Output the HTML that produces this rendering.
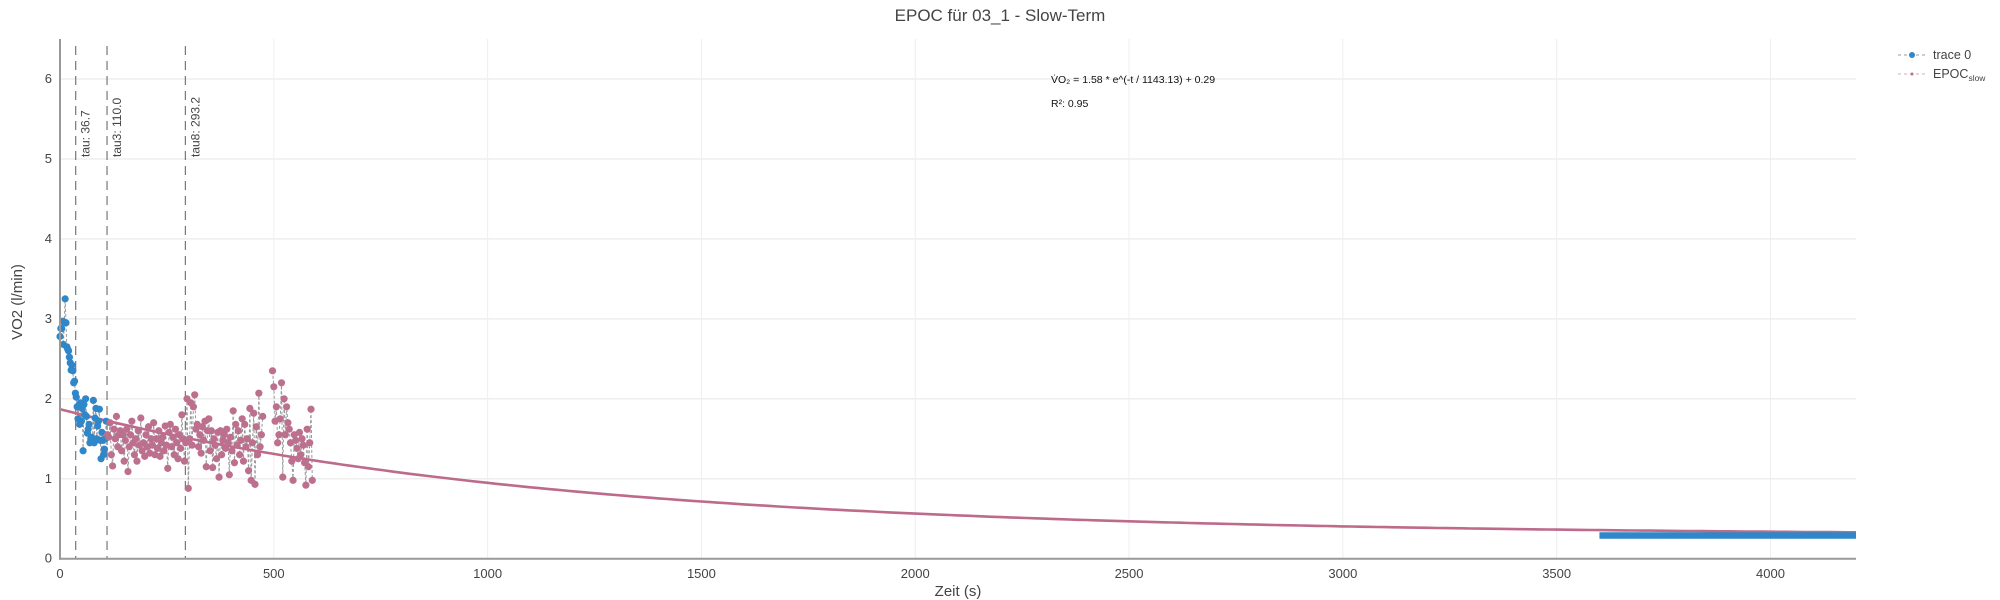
<!DOCTYPE html>
<html><head><meta charset="utf-8"><style>
html,body{margin:0;padding:0;background:#fff;}
svg{display:block;font-family:"Liberation Sans",sans-serif;}
</style></head><body>
<svg id="chart" width="2000" height="600" viewBox="0 0 2000 600" xmlns="http://www.w3.org/2000/svg">
<text x="1000" y="21" text-anchor="middle" font-size="17" fill="#444">EPOC für 03_1 - Slow-Term</text>
<g id="grid"></g>
<g id="marks"></g>
<g id="axes"></g>
<text x="1051" y="83" font-size="10.5" fill="#111">V̇O₂ = 1.58 * e^(-t / 1143.13) + 0.29</text>
<text x="1051" y="107" font-size="10.5" fill="#111">R²: 0.95</text>
<text x="958" y="596" text-anchor="middle" font-size="15" fill="#444">Zeit (s)</text>
<text transform="translate(22,302) rotate(-90)" text-anchor="middle" font-size="15" fill="#444">VO2 (l/min)</text>
<g>
 <g>
  <line x1="1898" y1="55" x2="1926" y2="55" stroke="#999" stroke-width="1" stroke-dasharray="3,3"/>
  <circle cx="1912" cy="55" r="3" fill="#2f86c8"/>
  <text x="1933" y="59" font-size="12.5" fill="#444">trace 0</text>
 </g>
 <g>
  <line x1="1898" y1="74" x2="1926" y2="74" stroke="#d9a9bc" stroke-width="1" stroke-dasharray="3,3"/>
  <circle cx="1912" cy="74" r="1.5" fill="#bd6f8e"/>
  <text x="1933" y="78" font-size="12.5" fill="#444">EPOC<tspan font-size="8.5" dy="3">slow</tspan></text>
 </g>
</g>
</svg>
<script>
const xTicks=[0,500,1000,1500,2000,2500,3000,3500,4000];
const yTicks=[0,1,2,3,4,5,6];
const tauValues=[36.7,110.0,293.2];
const tauLabels=["tau: 36.7","tau3: 110.0","tau8: 293.2"];
const fitA=1.58, fitTau=1143.13, fitC=0.29;
const blueStart=0, blueStep=2;
const blueValues=[2.78,2.88,2.88,2.97,2.68,2.96,3.25,2.95,2.65,2.62,2.6,2.52,2.45,2.36,2.42,2.35,2.2,2.22,2.07,2.02,1.9,1.75,1.92,1.68,1.95,1.72,1.88,1.35,1.93,1.8,2.0,1.78,1.57,1.62,1.68,1.45,1.5,1.52,1.46,1.98,1.45,1.76,1.88,1.5,1.66,1.72,1.87,1.48,1.25,1.58,1.48,1.3,1.37,1.5,1.72];
const pinkAStart=111, pinkStep=3;
const pinkAValues=[1.55,1.52,1.7,1.3,1.16,1.62,1.5,1.78,1.4,1.55,
1.6,1.35,1.55,1.22,1.48,1.62,1.09,1.4,1.55,1.72,
1.45,1.3,1.5,1.22,1.6,1.42,1.76,1.35,1.45,1.28,
1.55,1.4,1.65,1.32,1.5,1.42,1.7,1.3,1.5,1.38,
1.6,1.28,1.45,1.52,1.35,1.66,1.42,1.13,1.58,1.68,
1.4,1.52,1.3,1.62,1.45,1.25,1.55,1.38,1.8,1.5,
1.22,1.45,2.0,0.88,1.5,1.95,1.42,1.9,2.05,1.62,
1.68,1.4,1.55,1.32,1.65,1.48,1.72,1.15,1.6,1.75,
1.35,1.6,1.14,1.5,1.42,1.25,1.58,1.02,1.6,1.3,
1.48,1.55,1.38,1.62,1.45,1.05,1.52,1.35,1.85,1.2,
1.68,1.42,1.6,1.3,1.48,1.75,1.22,1.68,1.4,1.5,
1.1,1.88,0.98,1.45,1.82,0.93,1.65,1.3,2.07,1.4,
1.55,1.78];
const pinkBStart=497;
const pinkBValues=[2.35,2.15,1.72,1.9,1.45,1.55,1.75,2.2,1.02,2.0,1.55,1.9,1.7,1.62,1.45,1.22,0.98,1.55,1.48,1.38,1.25,1.58,1.3,1.5,1.42,1.2,0.92,1.62,1.15,1.45,1.87,0.98];
const tailTimes=[3600,4200];
const tailValues=[0.29,0.29];

const NS="http://www.w3.org/2000/svg";
const X0=60,X1=1856,XMAX=4200,Y0=558.7,PXU=79.95,YTOP=39;
const sx=t=>X0+(t/XMAX)*(X1-X0);
const sy=v=>Y0-v*PXU;
function mk(tag,attrs,parent){const e=document.createElementNS(NS,tag);for(const k in attrs)e.setAttribute(k,attrs[k]);parent.appendChild(e);return e;}
const grid=document.getElementById('grid'),marks=document.getElementById('marks'),axes=document.getElementById('axes');
xTicks.forEach(t=>{
 if(t>0){const l=mk('line',{x1:sx(t),x2:sx(t),y1:YTOP,y2:Y0,stroke:'#eee','stroke-width':1},grid);
 
 }
 const tx=mk('text',{x:sx(t),y:578,'text-anchor':'middle','font-size':13,fill:'#444'},axes);
 tx.textContent=t;
 
 
});
yTicks.forEach(v=>{
 if(v>0){const l=mk('line',{x1:X0,x2:X1,y1:sy(v),y2:sy(v),stroke:'#eee','stroke-width':1.5},grid);
 
 }
 const tx=mk('text',{x:58-6,y:sy(v)+4,'text-anchor':'end','font-size':13,fill:'#444'},axes);
 tx.textContent=v;
 
 
});
const ya=mk('line',{x1:X0,x2:X0,y1:YTOP,y2:Y0+1,stroke:'#999','stroke-width':2},axes);


const xa=mk('line',{x1:X0-1,x2:X1,y1:Y0,y2:Y0,stroke:'#999','stroke-width':2},axes);


// tau lines
tauValues.forEach((t,i)=>{
 const l=mk('line',{x1:sx(t),x2:sx(t),y1:46,y2:Y0,stroke:'#777','stroke-width':1.2,'stroke-dasharray':'9,6'},marks);
 
 
 const tx=mk('text',{transform:`translate(${sx(t)+14},157) rotate(-90)`,'font-size':12,fill:'#444'},marks);
 tx.textContent=tauLabels[i];
 
 
});
function series(start,step,vals,color,name){
 const pts=vals.map((v,i)=>[sx(start+i*step),sy(v)]);
 const pl=mk('polyline',{points:pts.map(p=>p.join(',')).join(' '),fill:'none',stroke:'#999','stroke-width':1,'stroke-dasharray':'3,2'},marks);
 
 
 return pts;
}
function dots(pts,color,name){
 pts.forEach(p=>{const c=mk('circle',{cx:p[0],cy:p[1],r:3.6,fill:color},marks);
 
 });
}
const bp=series(blueStart,blueStep,blueValues,'#2f86c8','trace-0');
const pa=series(pinkAStart,pinkStep,pinkAValues,'#bd6f8e','epoc-slow-a');
const pb=series(pinkBStart,pinkStep,pinkBValues,'#bd6f8e','epoc-slow-b');
// fit curve
let d='';for(let t=0;t<=XMAX;t+=20){const v=fitA*Math.exp(-t/fitTau)+fitC;d+=(t?'L':'M')+sx(t).toFixed(1)+','+sy(v).toFixed(1);}
const fit=mk('path',{d:d,fill:'none',stroke:'#bd6a8b','stroke-width':2.6},marks);


dots(bp,'#2f86c8','trace-0');
dots(pa,'#bd6f8e','epoc-slow');
dots(pb,'#bd6f8e','epoc-slow');
// tail
const tail=mk('line',{x1:sx(tailTimes[0]),x2:sx(tailTimes[1]),y1:sy(tailValues[0]),y2:sy(tailValues[1]),stroke:'#2f86c8','stroke-width':6.5},marks);


</script>
</body></html>
